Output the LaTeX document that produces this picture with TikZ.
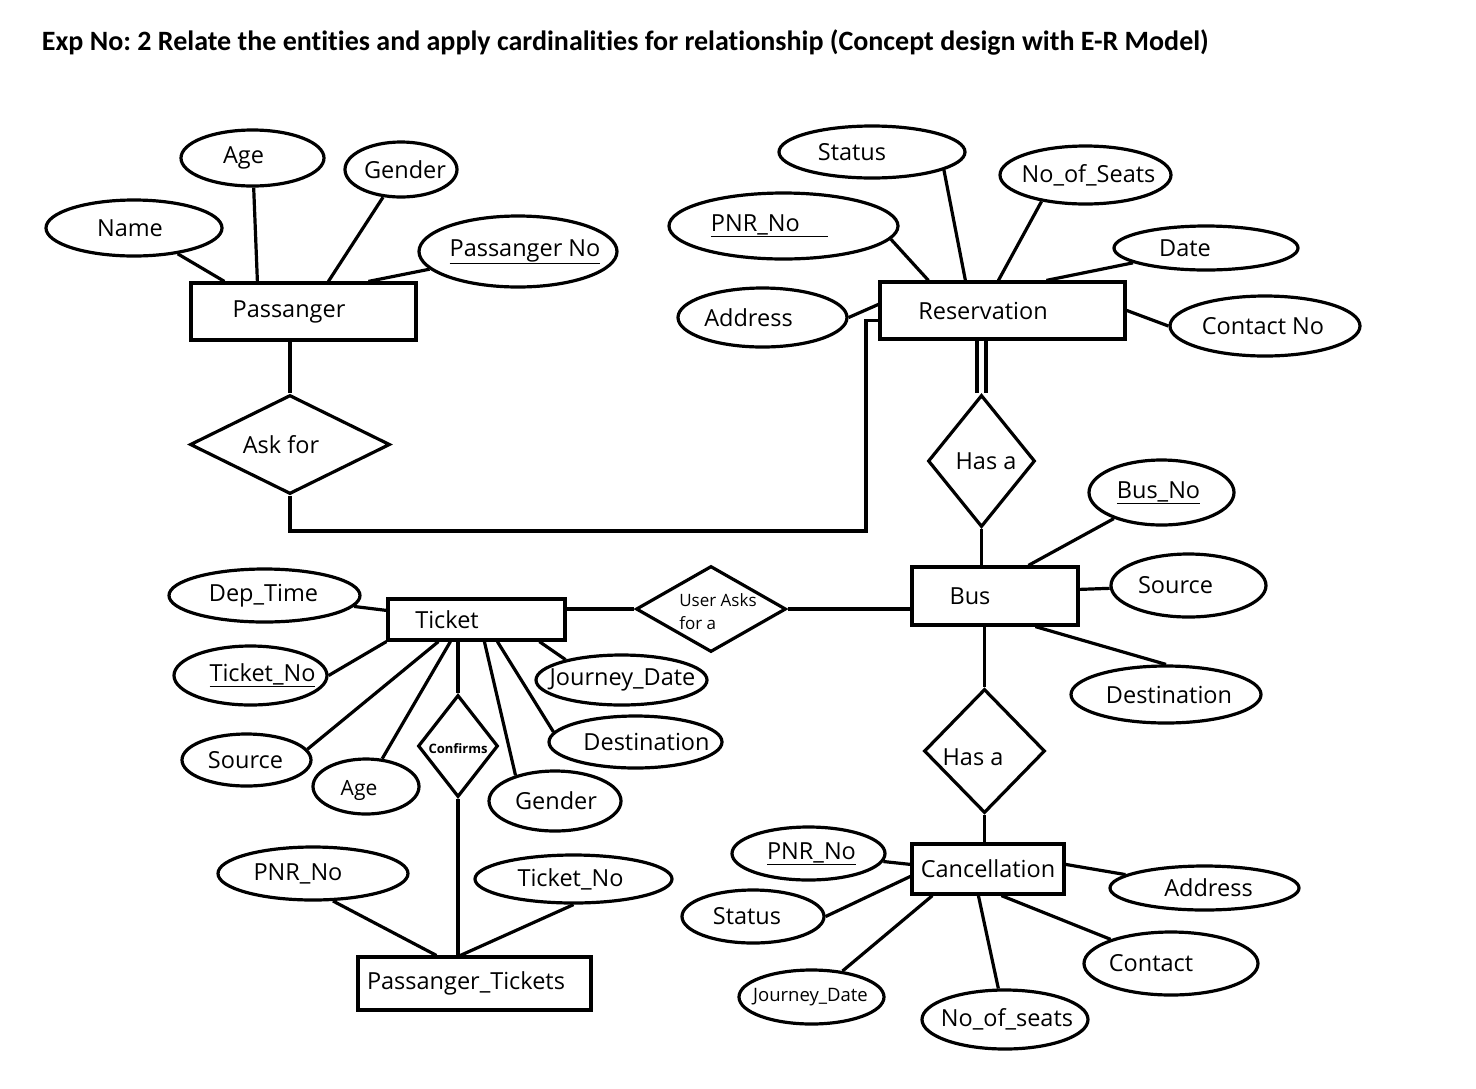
\documentclass[tikz,border=0pt]{standalone}
\usepackage{fontspec}
\setmainfont{Open Sans}
\newfontfamily\titlefont[Ligatures = NoCommon]{Carlito}
\frenchspacing
\usetikzlibrary{shapes.geometric, positioning}
\tikzset{x = 1pt, y = -1pt,
         attr/.style 2 args = {ellipse, draw, minimum width = #1, minimum height = #2, inner sep = 0pt},
         ent/.style 2 args = {rectangle, draw, minimum width = #1, minimum height = #2, inner sep = 0pt},
         rel/.style 2 args = {diamond, draw, minimum width = #1, minimum height = #2, inner sep = 0pt},
         txt/.style 2 args = {label = {[xshift = #1]center:#2}}}

\begin{document}
\begin{tikzpicture}[line width = 3.2pt, font = \fontsize{23.5}{28}\selectfont]
  \useasboundingbox (0,0) rectangle (1476,1088);
  \node[anchor = base west, font = \titlefont\bfseries\fontsize{28}{34}\selectfont] (title) at (37,50)
    {Exp No: 2 Relate the entities and apply cardinalities for relationship (Concept design with E-R Model)};

  % Passanger and its attributes
  \node[ent = {225}{57}, txt = {-14.5}{Passanger}]           (pas)   at (303.5,311.5) {};
  \node[attr = {143}{56}, txt = {-9}{Age}]                   (pAge)  at (252.5,158)   {};
  \node[attr = {112}{55}, txt = {4}{Gender}]                 (pGen)  at (401,169.5)   {};
  \node[attr = {176}{56}, txt = {-4}{Name}]                  (pName) at (134,228)     {};
  \node[attr = {198}{71}, txt = {7}{\underline{Passanger No}}] (pNo) at (518,251.5)   {};

  % Reservation and its attributes
  \node[ent = {245}{57}, txt = {-19.5}{Reservation}]         (res)   at (1002.5,310.5) {};
  \node[attr = {186}{52}, txt = {-20}{Status}]               (rStat) at (872,152)      {};
  \node[attr = {171}{58}, txt = {3}{No\_of\_Seats}]          (rSeat) at (1085.5,175)   {};
  \node[attr = {229}{66}, txt = {-14}{\underline{PNR\_No\hspace{1.2em}}}] (rPNR) at (783.5,226) {};
  \node[attr = {184}{44}, txt = {-21}{Date}]                 (rDate) at (1206,248)     {};
  \node[attr = {169}{59}, txt = {-14}{Address}]              (rAddr) at (762.5,317.5)  {};
  \node[attr = {190}{60}, txt = {-2}{Contact No}]            (rCont) at (1265,326)     {};

  % relationships
  \node[rel = {200}{99}, txt = {-9}{Ask for}]                (ask)   at (290,444.5)   {};
  \node[rel = {107}{132}, txt = {4.5}{Has a}]                (hasR)  at (981.5,461)   {};
  \node[rel = {150}{86}, label = {[xshift = 7, yshift = -2.5, align = left,
        font = \fontsize{17}{23}\selectfont]center:User Asks\\for a}] (ua) at (711,609) {};
  \node[rel = {121}{124}, label = {[xshift = -11.5, yshift = -6]center:Has a}] (hasC) at (984.5,751) {};
  \node[rel = {80}{102}, label = {[yshift = -3, font = \bfseries\fontsize{13}{16}\selectfont]center:Confirms}] (conf) at (458,746) {};

  % Bus and its attributes
  \node[ent = {166}{58}, txt = {-25}{Bus}]                   (bus)   at (995,596)      {};
  \node[attr = {145}{65}, txt = {-3}{\underline{Bus\_No}}]   (bNo)   at (1161.5,492.5) {};
  \node[attr = {155}{63}, txt = {-13}{Source}]               (bSrc)  at (1188.5,585.5) {};
  \node[attr = {190}{57}, txt = {3}{Destination}]            (bDest) at (1166,694.5)   {};

  % Ticket and its attributes
  \node[ent = {177}{41}, txt = {-29.5}{Ticket}]              (tic)   at (476.5,619.5) {};
  \node[attr = {191}{53}, txt = {-1}{Dep\_Time}]             (tDep)  at (264.5,595.5) {};
  \node[attr = {153}{59}, txt = {12}{\underline{Ticket\_No}}] (tNo)  at (250.5,675.5) {};
  \node[attr = {171}{50}, txt = {1}{Journey\_Date}]          (tJd)   at (621.5,680)   {};
  \node[attr = {173}{52}, txt = {11}{Destination}]           (tDest) at (635.5,742)   {};
  \node[attr = {129}{52}, txt = {-1}{Source}]                (tSrc)  at (246.5,760)   {};
  \node[attr = {106}{55}, label = {[xshift = -7, yshift = -4, font = \fontsize{21}{25}\selectfont]center:Age}] (tAge) at (366,786.5) {};
  \node[attr = {132}{60}, txt = {1}{Gender}]                 (tGen)  at (555,801)     {};

  % Passanger_Tickets
  \node[ent = {233}{53}, txt = {-8.5}{Passanger\_Tickets}]   (pt)    at (474.5,983.5) {};
  \node[attr = {190}{53}, txt = {-15}{PNR\_No}]              (ptPNR) at (313,873.5)   {};
  \node[attr = {197}{48}, txt = {-3}{Ticket\_No}]            (ptNo)  at (573.5,879)   {};

  % Cancellation and its attributes
  \node[ent = {152}{50}, txt = {0}{Cancellation}]            (canc)  at (988,869)     {};
  \node[attr = {153}{53}, txt = {3}{\underline{PNR\_No}}]    (cPNR)  at (808.5,853.5) {};
  \node[attr = {142}{53}, txt = {-6}{Status}]                (cStat) at (753,916.5)   {};
  \node[attr = {145}{54}, label = {[xshift = -1, font = \fontsize{18.5}{22}\selectfont]center:Journey\_Date}] (cJd) at (811.5,997) {};
  \node[attr = {166}{59}, txt = {2}{No\_of\_seats}]          (cSeat) at (1005,1019.5) {};
  \node[attr = {189}{44}, txt = {4}{Address}]                (cAddr) at (1204.5,888)  {};
  \node[attr = {174}{63}, txt = {-20}{Contact}]              (cCont) at (1171,963.5)  {};

  % connectors
  \draw (pName) -- ([xshift = 35]pas.north west);
  \draw (pAge) -- ([xshift = 68]pas.north west);
  \draw (pGen) -- ([xshift = 139]pas.north west);
  \draw (pNo) -- ([xshift = 179]pas.north west);
  \draw (ask.north |- pas.south) -- (ask.north);
  \coordinate (elb) at (866,531);
  \draw (ask.south) |- (elb) |- ([yshift = -40]res.north west);

  \draw (rAddr.east) -- ([yshift = -24]res.north west);
  \draw (rPNR.-7) -- ([xshift = 50]res.north west);
  \draw (rStat.-14) -- ([xshift = 87]res.north west);
  \draw (rSeat.211) -- ([xshift = 120]res.north west);
  \draw (rDate) -- ([xshift = 168]res.north west);
  \draw (rCont.west) -- ([yshift = -30]res.north east);
  \draw[double, double distance = 5.8pt] (hasR.north |- res.south) -- (hasR.north);

  \draw (hasR.south) -- (hasR.south |- bus.north);
  \draw (bNo) -- ([xshift = 118]bus.north west);
  \draw (bSrc) -- ([yshift = -24]bus.north east);
  \draw (bDest.north) -- ([xshift = 125]bus.south west);
  \draw (hasC.north |- bus.south) -- (hasC.north);
  \draw (hasC.south) -- (hasC.south |- canc.north);
  \draw (ua.east) -- (ua.east -| bus.west);
  \draw (ua.west) -- (ua.west -| tic.east);

  \draw (tDep) -- ([yshift = -13]tic.north west);
  \draw (tNo.east) -- (tic.south west);
  \draw (tSrc.10) -- ([xshift = 52]tic.south west);
  \draw (tAge) -- ([xshift = 64]tic.south west);
  \draw (conf.north |- tic.south) -- (conf.north);
  \draw (tGen.147) -- ([xshift = 98]tic.south west);
  \draw (tDest.173) -- ([xshift = 111]tic.south west);
  \draw (tJd.160) -- ([xshift = 153]tic.south west);
  \draw (conf.south) -- (conf.south |- pt.north);
  \draw (ptPNR.-54) -- ([xshift = 80]pt.north west);
  \draw (ptNo.south) -- ([xshift = 104]pt.north west);

  \draw (cPNR) -- ([yshift = -22]canc.north west);
  \draw (cStat.east) -- ([yshift = -34]canc.north west);
  \draw (cJd) -- ([xshift = 22]canc.south west);
  \draw (cSeat) -- ([xshift = 68]canc.south west);
  \draw (cCont) -- ([xshift = 91]canc.south west);
  \draw (cAddr) -- ([yshift = -22]canc.north east);
\end{tikzpicture}
\end{document}
